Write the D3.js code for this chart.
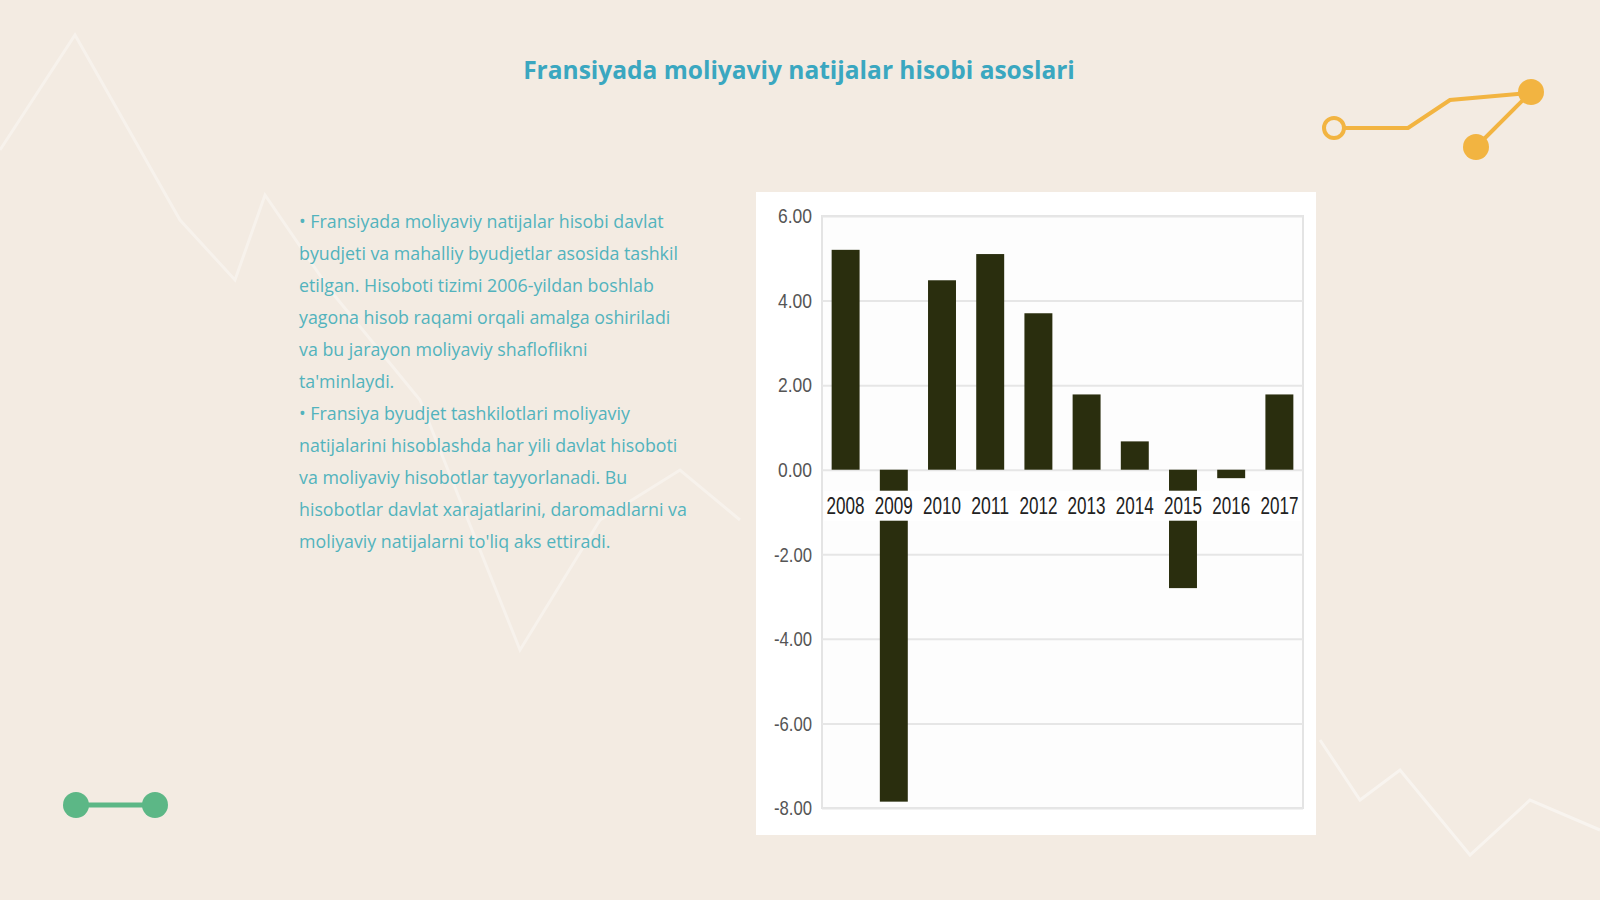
<!DOCTYPE html>
<html><head><meta charset="utf-8">
<script src="https://cdn.jsdelivr.net/npm/d3@7"></script>
<style>
body{margin:0;background:#f3ebe2;overflow:hidden}
svg{display:block}
</style></head>
<body>
<svg id="c" width="1600" height="900"></svg>
<script>
// data
var years = ["2008","2009","2010","2011","2012","2013","2014","2015","2016","2017"];
var values = [5.2, -7.85, 4.48, 5.1, 3.7, 1.78, 0.67, -2.8, -0.2, 1.78];
var yTicks = [6, 4, 2, 0, -2, -4, -6, -8];
var paragraphs = [
  ["• Fransiyada moliyaviy natijalar hisobi davlat", "byudjeti va mahalliy byudjetlar asosida tashkil", "etilgan. Hisoboti tizimi 2006-yildan boshlab", "yagona hisob raqami orqali amalga oshiriladi", "va bu jarayon moliyaviy shafloflikni", "ta'minlaydi."],
  ["• Fransiya byudjet tashkilotlari moliyaviy", "natijalarini hisoblashda har yili davlat hisoboti", "va moliyaviy hisobotlar tayyorlanadi. Bu", "hisobotlar davlat xarajatlarini, daromadlarni va", "moliyaviy natijalarni to'liq aks ettiradi."]
];

var svg = d3.select("#c");

// faint background zigzags
var zig = [[0,150],[75,35],[180,220],[235,280],[265,195],[330,290],[420,400],[520,650],[600,520],[680,470],[740,520]];
svg.append("path").attr("d", d3.line()(zig)).attr("fill","none").attr("stroke","#ffffff").attr("stroke-width",3).attr("opacity",0.35);
var zig2 = [[1320,740],[1360,800],[1400,770],[1470,855],[1530,800],[1600,830]];
svg.append("path").attr("d", d3.line()(zig2)).attr("fill","none").attr("stroke","#ffffff").attr("stroke-width",3).attr("opacity",0.45);

// title
svg.append("text").attr("x",799).attr("y",79).attr("text-anchor","middle")
  .attr("font-family","Open Sans").attr("font-weight","bold").attr("font-size",24.5)
  .attr("fill","#3aa7c0").text("Fransiyada moliyaviy natijalar hisobi asoslari");

// body text
var ly = 0;
var tx = svg.append("g").attr("font-family","Open Sans").attr("font-size",17.8).attr("fill","#52b3bd");
paragraphs.forEach(function(p){
  p.forEach(function(l){
    tx.append("text").attr("x",299).attr("y",228 + ly*32).text(l);
    ly++;
  });
});

// orange connector
var og = svg.append("g").attr("stroke","#f2b441").attr("stroke-width",4).attr("fill","none");
og.append("path").attr("d","M1344,128 L1408,128 L1450,100 L1530,93");
og.append("path").attr("d","M1476,147 L1530,93");
og.append("circle").attr("cx",1334).attr("cy",128).attr("r",10);
svg.append("circle").attr("cx",1531).attr("cy",92).attr("r",13).attr("fill","#f2b441");
svg.append("circle").attr("cx",1476).attr("cy",147).attr("r",13).attr("fill","#f2b441");

// green dumbbell
svg.append("line").attr("x1",76).attr("x2",155).attr("y1",805).attr("y2",805).attr("stroke","#5cb786").attr("stroke-width",5);
svg.append("circle").attr("cx",76).attr("cy",805).attr("r",13).attr("fill","#5cb786");
svg.append("circle").attr("cx",155).attr("cy",805).attr("r",13).attr("fill","#5cb786");

// chart panel
svg.append("rect").attr("x",756).attr("y",192).attr("width",560).attr("height",643).attr("fill","#ffffff");

var pLeft = 822, pRight = 1303, pTop = 216, pBottom = 808;
var y = d3.scaleLinear().domain([-8, 6]).range([pBottom, pTop]);
var x = d3.scaleBand().domain(years).range([pLeft, pRight]).paddingInner(0.42).paddingOuter(0.2);

var g = svg.append("g");
g.append("rect").attr("x",pLeft).attr("y",pTop).attr("width",pRight-pLeft).attr("height",pBottom-pTop)
  .attr("fill","#fdfdfd").attr("stroke","#e4e4e4").attr("stroke-width",2);

var yAxis = d3.axisLeft(y).tickValues(yTicks).tickSize(-(pRight-pLeft))
  .tickFormat(function(d){ return d3.format(".2f")(d).replace("−","-"); });
var ya = g.append("g").attr("transform","translate(" + pLeft + ",0)").call(yAxis);
ya.select(".domain").remove();
ya.selectAll("line").attr("stroke","#e6e6e6").attr("stroke-width",2);
ya.selectAll("text").attr("x",-10).attr("font-family","Liberation Sans").attr("font-size",21)
  .attr("fill","#555").attr("lengthAdjust","spacingAndGlyphs")
  .attr("textLength", function(d){ return d < 0 ? 38 : 34; });

g.selectAll("rect.bar").data(values).enter().append("rect").attr("class","bar")
  .attr("x", function(d,i){ return x(years[i]); })
  .attr("width", x.bandwidth())
  .attr("y", function(d){ return y(Math.max(0,d)); })
  .attr("height", function(d){ return Math.abs(y(d) - y(0)); })
  .attr("fill","#2a2e0e");

// year labels sit on white boxes just under the zero line
var xa = g.append("g").attr("transform","translate(0," + y(0) + ")");
xa.append("rect").attr("x",pLeft+2).attr("y",21).attr("width",pRight-pLeft-4).attr("height",30).attr("fill","#ffffff");
xa.call(d3.axisBottom(x).tickSize(0));
xa.select(".domain").remove();
xa.selectAll(".tick text").attr("dy",0).attr("y",44).attr("font-family","Liberation Sans")
  .attr("font-size",23).attr("fill","#222").attr("lengthAdjust","spacingAndGlyphs").attr("textLength",38);
</script>
</body></html>
